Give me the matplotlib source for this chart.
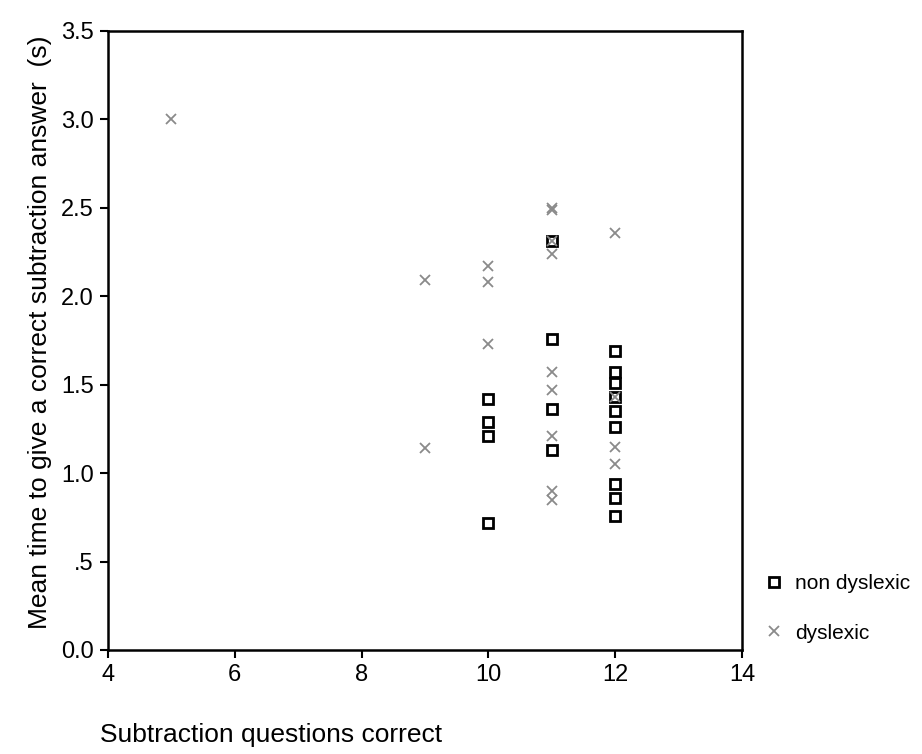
import numpy as np
import matplotlib.pyplot as plt

plt.rcParams['font.family'] = ['Liberation Sans', 'DejaVu Sans']

# punti letti dal grafico
# non dislessici (quadrati)
nd_x = [10, 10, 10, 10, 11, 11, 11, 11, 12, 12, 12, 12, 12, 12, 12, 12, 12]
nd_y = [1.42, 1.29, 1.21, 0.72, 2.31, 1.76, 1.36, 1.13,
        1.69, 1.57, 1.51, 1.43, 1.35, 1.26, 0.94, 0.86, 0.76]

# dislessici (croci)
d_x = [5, 9, 9, 10, 10, 10, 11, 11, 11, 11, 11, 11, 11, 11, 11, 12, 12, 12, 12]
d_y = [3.00, 2.09, 1.14, 2.17, 2.08, 1.73, 2.49, 2.50, 2.31, 2.24, 1.57, 1.47,
       1.21, 0.90, 0.85, 2.36, 1.43, 1.15, 1.05]

xticks = [4, 6, 8, 10, 12, 14]
yticks = [0, 0.5, 1.0, 1.5, 2.0, 2.5, 3.0, 3.5]
ytick_labels = ['0.0', '.5', '1.0', '1.5', '2.0', '2.5', '3.0', '3.5']

fig = plt.figure(figsize=(9.22, 7.54), dpi=100)
ax = fig.add_axes([0.117, 0.138, 0.688, 0.821])

ax.plot(d_x, d_y, 'x', color='#8a8a8a', markersize=7, mew=1.3, linestyle='none',
        label='dyslexic', zorder=3)
ax.plot(nd_x, nd_y, 's', mfc='none', mec='black', markersize=7.5, mew=2.0,
        linestyle='none', label='non dyslexic', zorder=2)

ax.set_xlim(4, 14)
ax.set_ylim(0, 3.5)
ax.set_xticks(xticks)
ax.set_yticks(yticks)
ax.set_yticklabels(ytick_labels)
ax.tick_params(labelsize=17, length=6, width=1.5, direction='out', pad=4)
for s in ax.spines.values():
    s.set_linewidth(1.8)

fig.text(0.043, 0.56, 'Mean time to give a correct subtraction answer  (s)',
         rotation=90, ha='center', va='center', fontsize=19, stretch='condensed')
fig.text(0.108, 0.025, 'Subtraction questions correct', ha='left', va='center',
         fontsize=19)

h, l = ax.get_legend_handles_labels()
ax.legend(h[::-1], l[::-1], loc='center left', bbox_to_anchor=(0.828, 0.193),
          bbox_transform=fig.transFigure, frameon=False, fontsize=15,
          labelspacing=1.45, handletextpad=0.5, handlelength=1.0,
          borderpad=0, borderaxespad=0)

fig.savefig('out.png')
